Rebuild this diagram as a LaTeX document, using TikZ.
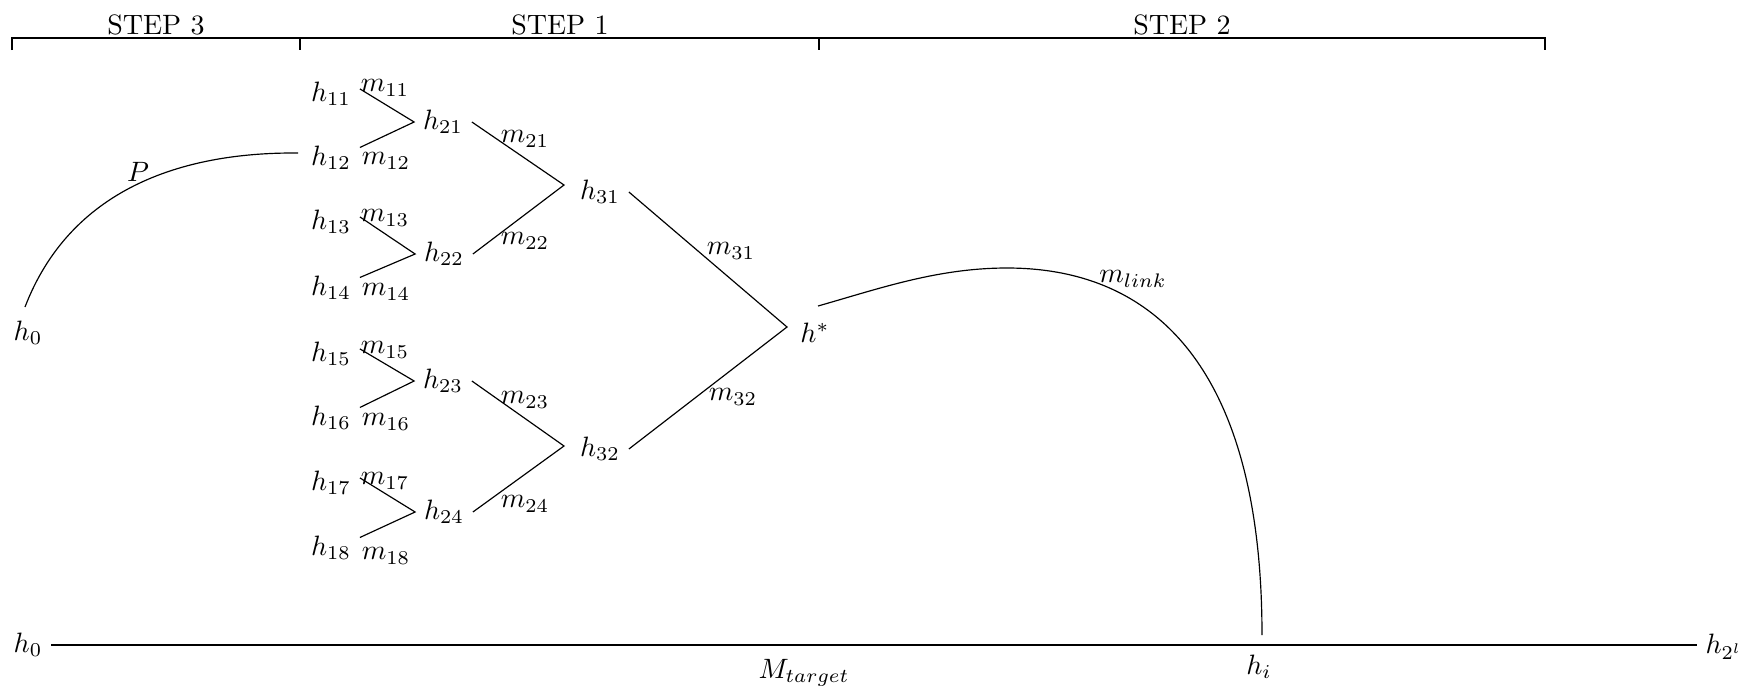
\documentclass[tikz,border=0pt]{standalone}
\begin{document}
\begin{tikzpicture}[x=0.357pt,y=-0.357pt,
  hn/.style={inner xsep=3pt,inner ysep=1pt},
  lbl/.style={inner sep=0pt},
  steplbl/.style={inner sep=0pt},
  edge/.style={line width=0.42pt},
  base/.style={line width=0.75pt}]
\useasboundingbox (0,0) rectangle (1750,692);
% step brackets
\node[steplbl] (s3) at (156,25) {STEP 3};
\node[steplbl] (s1) at (560,25) {STEP 1};
\node[steplbl] (s2) at (1182,25) {STEP 2};
\draw[edge] (12,50) -- (12,38) -- (1545,38) -- (1545,50);
\draw[edge] (300,38) -- (300,50);
\draw[edge] (819,38) -- (819,50);
% level 1
\node[hn] (h11) at (331,94) {$h_{11}$};
\node[hn] (h12) at (331,158) {$h_{12}$};
\node[hn] (h13) at (331,222) {$h_{13}$};
\node[hn] (h14) at (331,288) {$h_{14}$};
\node[hn] (h15) at (331,354) {$h_{15}$};
\node[hn] (h16) at (331,418) {$h_{16}$};
\node[hn] (h17) at (331,483) {$h_{17}$};
\node[hn] (h18) at (331,548) {$h_{18}$};
\node[lbl] (m11) at (385,88) {$m_{11}$};
\node[lbl] (m12) at (386,161) {$m_{12}$};
\node[lbl] (m13) at (385,218) {$m_{13}$};
\node[lbl] (m14) at (386,292) {$m_{14}$};
\node[lbl] (m15) at (385,350) {$m_{15}$};
\node[lbl] (m16) at (386,422) {$m_{16}$};
\node[lbl] (m17) at (385,481) {$m_{17}$};
\node[lbl] (m18) at (386,556) {$m_{18}$};
% level 2
\node[hn] (h21) at (443,122) {$h_{21}$};
\node[hn] (h22) at (444,254) {$h_{22}$};
\node[hn] (h23) at (443,381) {$h_{23}$};
\node[hn] (h24) at (444,512) {$h_{24}$};
\node[lbl] (m21) at (525,139) {$m_{21}$};
\node[lbl] (m22) at (525,241) {$m_{22}$};
\node[lbl] (m23) at (525,400) {$m_{23}$};
\node[lbl] (m24) at (525,504) {$m_{24}$};
% level 3
\node[hn] (h31) at (600,192) {$h_{31}$};
\node[hn] (h32) at (600,449) {$h_{32}$};
\node[lbl] (m31) at (731,251) {$m_{31}$};
\node[lbl] (m32) at (733,397) {$m_{32}$};
\node[hn] (hs) at (815,333) {$h^{*}$};
% meeting points of the tree
\coordinate (v31) at (564,185);
\coordinate (v32) at (564,446);
\coordinate (vs) at (787,327);
% edges of the tree
\draw[edge] (h11.10) -- (h21.west) -- (h12.20);
\draw[edge] (h13.10) -- (h22.west) -- (h14.20);
\draw[edge] (h15.10) -- (h23.west) -- (h16.20);
\draw[edge] (h17.10) -- (h24.west) -- (h18.20);
\draw[edge] (h21.east) -- (v31) -- (h22.east);
\draw[edge] (h23.east) -- (v32) -- (h24.east);
\draw[edge] (h31.east) -- (vs) -- (h32.east);
% step 3
\node[hn] (h0a) at (28,333) {$h_0$};
\node[lbl] (P) at (138,172) {$P$};
\coordinate (ps) at (25,307);
\coordinate (pe) at (298,153);
\draw[edge] (ps) .. controls (70,190) and (180,152) .. (pe);
% bottom line
\node[hn] (h0b) at (28,645) {$h_0$};
\node[hn] (h2l) at (1724,647) {$h_{2^l}$};
\node[lbl] (Mt) at (804,673) {$M_{target}$};
\node[lbl] (hi) at (1259,667) {$h_i$};
\draw[base] (h0b.east) -- (h0b.east -| h2l.west);
% step 2
\coordinate (lks) at (818,306);
\coordinate (lkp) at (1007,268);
\coordinate (lk) at (1262,635);
\node[lbl] (ml) at (1133,279) {$m_{link}$};
\draw[edge] (lks) .. controls (878,289) and (937,268) .. (lkp)
  .. controls (1167,268) and (1262,385) .. (lk);
\end{tikzpicture}
\end{document}
